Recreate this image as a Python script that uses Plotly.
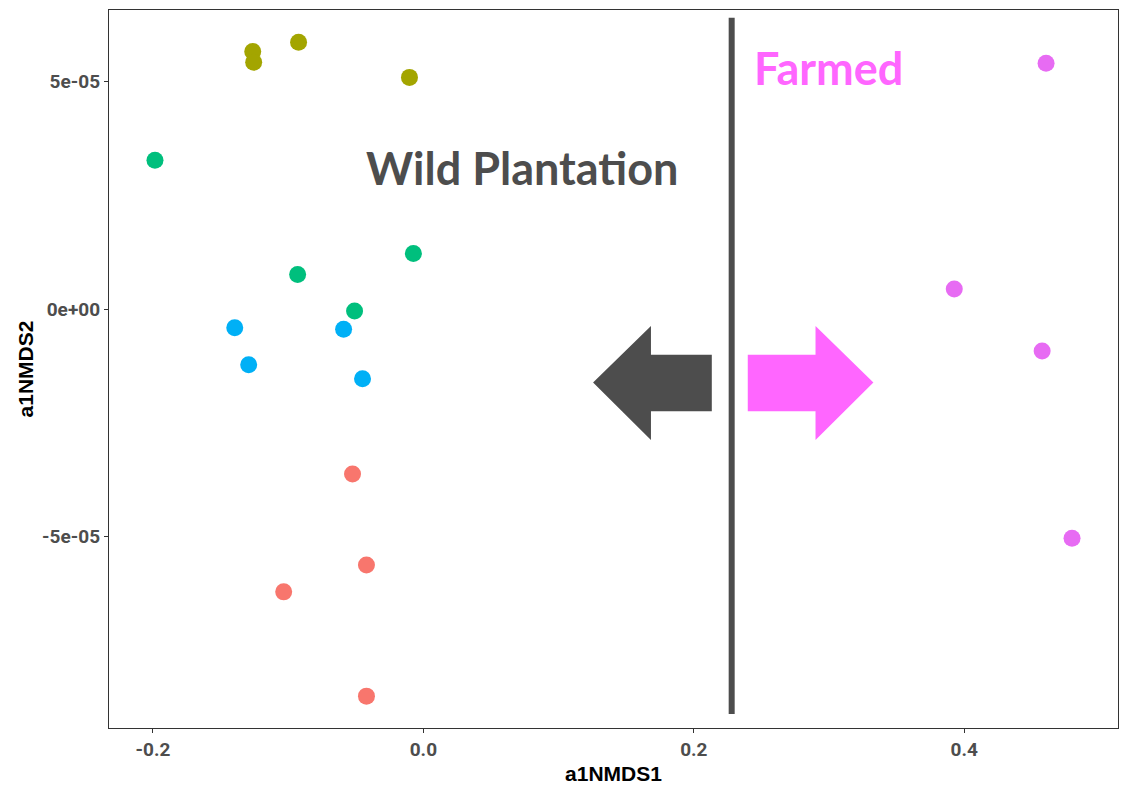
import plotly.graph_objects as go

# ---- data ----
groups = ["red", "olive", "green", "blue", "pink"]
colors = {"red": "#F8766D", "olive": "#A3A500", "green": "#00BF7D",
          "blue": "#00B0F6", "pink": "#E76BF3"}
nmds1 = {
    "olive": [-0.1262, -0.1255, -0.0923, -0.0103],
    "green": [-0.1985, -0.0930, -0.0509, -0.0074],
    "blue":  [-0.1395, -0.1292, -0.0590, -0.0450],
    "red":   [-0.0524, -0.0421, -0.1033, -0.0421],
    "pink":  [0.4605, 0.3926, 0.4576, 0.4797],
}
nmds2 = {
    "olive": [5.66e-5, 5.42e-5, 5.86e-5, 5.09e-5],
    "green": [3.27e-5, 0.76e-5, -0.04e-5, 1.22e-5],
    "blue":  [-0.41e-5, -1.22e-5, -0.44e-5, -1.53e-5],
    "red":   [-3.62e-5, -5.62e-5, -6.21e-5, -8.50e-5],
    "pink":  [5.40e-5, 0.44e-5, -0.92e-5, -5.03e-5],
}
x_ticks = [-0.2, 0.0, 0.2, 0.4]
x_ticklabels = ["-0.2", "0.0", "0.2", "0.4"]
y_ticks = [5e-5, 0.0, -5e-5]
y_ticklabels = ["5e-05", "0e+00", "-5e-05"]

fig = go.Figure()
for g in groups:
    fig.add_trace(go.Scatter(
        x=nmds1[g], y=nmds2[g], mode="markers",
        marker=dict(size=17, color=colors[g]),
        showlegend=False, hoverinfo="x+y"))

# arrows
lx = [0.1255, 0.1683, 0.1683, 0.2133, 0.2133, 0.1683, 0.1683, 0.1255]
ly = [-1.612e-5, -0.370e-5, -1.002e-5, -1.002e-5, -2.244e-5, -2.244e-5, -2.876e-5, -1.612e-5]
fig.add_trace(go.Scatter(x=lx, y=ly, fill="toself", mode="lines",
                         line=dict(width=0, color="#4D4D4D"), fillcolor="#4D4D4D",
                         showlegend=False, hoverinfo="skip"))
rx = [0.3328, 0.2900, 0.2900, 0.2399, 0.2399, 0.2900, 0.2900, 0.3328]
fig.add_trace(go.Scatter(x=rx, y=ly, fill="toself", mode="lines",
                         line=dict(width=0, color="#FF66FF"), fillcolor="#FF66FF",
                         showlegend=False, hoverinfo="skip"))

fig.add_shape(type="line", x0=0.228, x1=0.228, y0=-8.89e-5, y1=6.40e-5,
              xref="x", yref="y", line=dict(color="#4D4D4D", width=6))

fig.add_annotation(x=0.0731, y=3.10e-5, text="<b>Wild Plantation</b>", showarrow=False,
                   font=dict(family="Lato", size=45, color="#4D4D4D"))
fig.add_annotation(x=0.2995, y=5.30e-5, text="<b>Farmed</b>", showarrow=False,
                   font=dict(family="Lato", size=45, color="#FF66FF"))

axis_common = dict(showgrid=False, zeroline=False, showline=True, linecolor="#333333",
                   linewidth=1.3, mirror=True, ticks="outside", ticklen=4,
                   tickcolor="#333333", tickwidth=1,
                   tickfont=dict(family="Roboto", size=19, color="#4D4D4D", weight="bold"))
fig.update_xaxes(range=[-0.2325, 0.5137], tickvals=x_ticks, ticktext=x_ticklabels,
                 title=dict(text="<b>a1NMDS1</b>", standoff=8,
                            font=dict(family="Liberation Sans", size=21, color="black")),
                 **axis_common)
fig.update_yaxes(range=[-9.2e-5, 6.57e-5], tickvals=y_ticks, ticktext=y_ticklabels,
                 title=dict(text="<b>a1NMDS2</b>", standoff=2,
                            font=dict(family="Liberation Sans", size=21, color="black")),
                 **axis_common)
fig.update_layout(width=1112, height=777, margin=dict(l=101, r=1, t=1, b=53),
                  plot_bgcolor="white", paper_bgcolor="white")
fig.write_html("out.html")
